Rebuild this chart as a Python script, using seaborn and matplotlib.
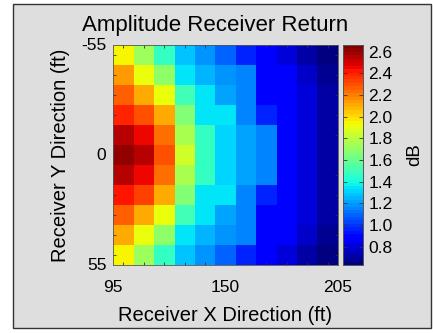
import numpy as np
import pandas as pd
import seaborn as sns
import matplotlib
matplotlib.use("Agg")
import matplotlib.pyplot as plt
from matplotlib.patches import Rectangle

# ---- data ----
x_ft = [95, 106, 117, 128, 139, 150, 161, 172, 183, 194, 205]
y_ft = [-55, -44, -33, -22, -11, 0, 11, 22, 33, 44, 55]
col_95  = [1.95, 2.15, 2.26, 2.40, 2.55, 2.62, 2.55, 2.42, 2.25, 2.12, 1.95]
col_106 = [1.72, 1.93, 2.12, 2.30, 2.45, 2.55, 2.45, 2.32, 2.12, 1.93, 1.72]
col_117 = [1.47, 1.69, 1.93, 2.10, 2.22, 2.30, 2.22, 2.10, 1.93, 1.69, 1.47]
col_128 = [1.29, 1.36, 1.50, 1.65, 1.75, 1.85, 1.75, 1.65, 1.50, 1.36, 1.29]
col_139 = [1.18, 1.26, 1.33, 1.36, 1.46, 1.48, 1.46, 1.36, 1.33, 1.26, 1.18]
col_150 = [1.09, 1.20, 1.22, 1.33, 1.30, 1.30, 1.30, 1.33, 1.22, 1.20, 1.09]
col_161 = [0.98, 1.14, 1.14, 1.14, 1.22, 1.22, 1.22, 1.14, 1.14, 1.14, 0.98]
col_172 = [0.86, 0.86, 0.86, 0.98, 1.14, 1.14, 1.14, 0.98, 0.86, 0.86, 0.86]
col_183 = [0.81, 0.86, 0.86, 0.86, 0.86, 0.86, 0.86, 0.86, 0.86, 0.86, 0.81]
col_194 = [0.72, 0.76, 0.80, 0.80, 0.80, 0.80, 0.80, 0.80, 0.80, 0.76, 0.72]
col_205 = [0.64, 0.67, 0.71, 0.71, 0.71, 0.71, 0.71, 0.71, 0.71, 0.67, 0.64]
columns = [col_95, col_106, col_117, col_128, col_139, col_150,
           col_161, col_172, col_183, col_194, col_205]
x_tick_labels = ["95", "150", "205"]
y_tick_labels = ["-55", "0", "55"]
cbar_ticks = [0.8, 1.0, 1.2, 1.4, 1.6, 1.8, 2.0, 2.2, 2.4, 2.6]

df = pd.DataFrame(np.array(columns).T, index=y_ft, columns=x_ft)

# ---- figure ----
W, H = 433, 333
fig = plt.figure(figsize=(W / 100, H / 100), dpi=100, facecolor="white")
plt.rcParams["font.family"] = ["Liberation Sans", "DejaVu Sans"]

bg = Rectangle((13 / W, 1 - 328 / H), (431 - 13) / W, (328 - 4) / H,
               transform=fig.transFigure, facecolor="#dedede",
               edgecolor="#333333", linewidth=1.0, zorder=-10)
fig.patches.append(bg)

ax = fig.add_axes([113.3 / W, 1 - 265 / H, 224.4 / W, 220 / H])
cax = fig.add_axes([343 / W, 1 - 265 / H, 20 / W, 220 / H])

cmap = plt.get_cmap("jet", 64)
sns.heatmap(df, ax=ax, cbar_ax=cax, cmap=cmap, vmin=0.631, vmax=2.662,
            cbar_kws={"ticks": cbar_ticks})

n = len(x_ft)
ax.set_xticks([0, n / 2, n])
ax.set_xticklabels(x_tick_labels, rotation=0, fontsize=12.5)
ax.set_yticks([0, n / 2, n])
ax.set_yticklabels(y_tick_labels, rotation=0, fontsize=12.5)
ax.tick_params(which="major", length=0)
ax.tick_params(axis="x", which="major", pad=11)
ax.tick_params(axis="y", which="major", pad=5)
ax.set_xticks(np.arange(n) + 0.5, minor=True)
ax.set_yticks(np.arange(n) + 0.5, minor=True)
ax.tick_params(which="minor", direction="in", length=2.5, width=0.6,
               top=True, bottom=True, left=True, right=True, color="#333333")
for s in ax.spines.values():
    s.set_visible(True)
    s.set_linewidth(0.6)
    s.set_color("#555555")

ax.set_xlabel("Receiver X Direction (ft)", fontsize=14.5, labelpad=8)
ax.set_ylabel("Receiver Y Direction (ft)", fontsize=14.5, labelpad=8)
fig.text(215 / W, 1 - 26 / H, "Amplitude Receiver Return", fontsize=16,
         ha="center", va="center")

cax.set_yticks(cbar_ticks)
cax.set_yticklabels([f"{t:.1f}" for t in cbar_ticks], fontsize=12.5)
cax.tick_params(direction="in", length=3, width=0.6, left=True, right=True,
                color="#333333", pad=4)
cax.set_ylabel("dB", fontsize=13.5, labelpad=10)
for s in cax.spines.values():
    s.set_visible(True)
    s.set_linewidth(0.6)
    s.set_color("#555555")

fig.savefig("out.png", dpi=100, facecolor="white")
